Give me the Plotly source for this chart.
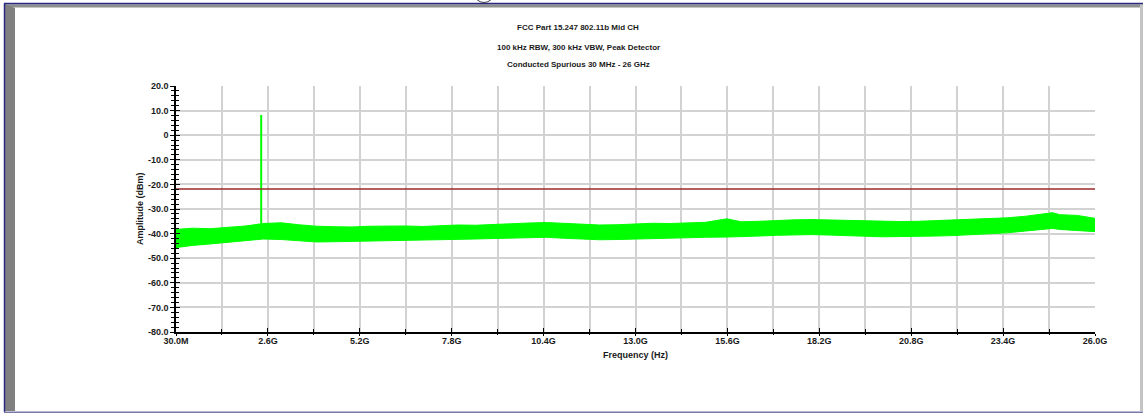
import plotly.graph_objects as go

# Spectrum envelope (frequency in GHz, amplitude in dBm)
freq_ghz = [0.03, 0.5, 1.0, 1.5, 2.0, 2.5, 3.0, 3.5, 4.0, 4.5, 5.0, 5.5, 6.0, 6.5,
            7.0, 7.5, 8.0, 8.5, 9.0, 9.5, 10.0, 10.5, 11.0, 11.5, 12.0, 12.5, 13.0,
            13.5, 14.0, 14.5, 15.0, 15.6, 16.0, 16.5, 17.0, 17.5, 18.0, 18.5, 19.0,
            19.5, 20.0, 20.5, 21.0, 21.5, 22.0, 22.5, 23.0, 23.5, 24.0, 24.5, 24.8,
            25.0, 25.5, 26.0]
peak_dbm = [-38.3, -37.8, -38.0, -37.4, -36.9, -35.9, -35.6, -36.4, -37.0, -37.2,
            -37.3, -37.0, -36.8, -36.9, -37.1, -36.8, -36.5, -36.6, -36.2, -36.0,
            -35.7, -35.5, -35.8, -36.2, -36.5, -36.4, -36.1, -35.8, -35.9, -35.6,
            -35.4, -34.0, -35.2, -35.0, -34.6, -34.4, -34.3, -34.5, -34.8, -35.0,
            -35.2, -35.1, -35.0, -34.7, -34.5, -34.3, -34.0, -33.6, -33.0, -32.2,
            -31.5, -32.3, -32.6, -33.8]
floor_dbm = [-45.7, -44.8, -44.2, -43.6, -42.8, -42.2, -42.4, -43.0, -43.4, -43.3,
             -43.2, -43.0, -42.8, -42.6, -42.7, -42.5, -42.3, -42.2, -42.0, -41.8,
             -41.6, -41.5, -41.9, -42.3, -42.5, -42.4, -42.2, -41.9, -41.8, -41.6,
             -41.5, -41.4, -41.3, -41.0, -40.7, -40.5, -40.4, -40.6, -40.9, -41.1,
             -41.3, -41.2, -41.2, -41.0, -40.8, -40.5, -40.2, -39.7, -39.0, -38.4,
             -37.9, -38.3, -38.6, -39.2]

# Carrier (802.11b mid channel)
carrier_ghz = [2.437, 2.437]
carrier_dbm = [-37.0, 8.2]

# Limit line
limit_dbm = -21.9

x_min, x_max = 0.03, 26.0
y_min, y_max = -80.0, 20.0
x_tick_text = ["30.0M", "2.6G", "5.2G", "7.8G", "10.4G", "13.0G",
               "15.6G", "18.2G", "20.8G", "23.4G", "26.0G"]
y_tick_vals = [20, 10, 0, -10, -20, -30, -40, -50, -60, -70, -80]
y_tick_text = ["20.0", "10.0", "0", "-10.0", "-20.0", "-30.0", "-40.0",
               "-50.0", "-60.0", "-70.0", "-80.0"]

title_lines = ["FCC Part 15.247 802.11b Mid CH",
               "100 kHz RBW, 300 kHz VBW, Peak Detector",
               "Conducted Spurious 30 MHz - 26 GHz"]

W, H = 1143, 413
ML, MR, MT, MB = 176, 48, 86, 81
PW, PH = W - ML - MR, H - MT - MB

step = (x_max - x_min) / 10
x_tick_vals = [x_min + k * step for k in range(11)]

GREEN = "#00ff00"
GRID = "#d2d2d2"
FONT = "Liberation Sans"

fig = go.Figure()

# noise floor band
fig.add_trace(go.Scatter(x=freq_ghz, y=floor_dbm, mode="lines",
                         line=dict(color=GREEN, width=1), hoverinfo="skip",
                         showlegend=False))
fig.add_trace(go.Scatter(x=freq_ghz, y=peak_dbm, mode="lines",
                         line=dict(color=GREEN, width=1), fill="tonexty",
                         fillcolor=GREEN, showlegend=False))
# carrier
fig.add_trace(go.Scatter(x=carrier_ghz, y=carrier_dbm, mode="lines",
                         line=dict(color=GREEN, width=2), showlegend=False))
# limit
fig.add_trace(go.Scatter(x=[x_min, x_max], y=[limit_dbm, limit_dbm], mode="lines",
                         line=dict(color="#9b2a2a", width=1.6), showlegend=False))
# helper trace for the overlay axes (inner tick marks)
fig.add_trace(go.Scatter(x=[x_min], y=[y_min], xaxis="x2", yaxis="y2",
                         mode="markers", marker=dict(opacity=0), showlegend=False,
                         hoverinfo="skip"))

tickfont = dict(family=FONT, size=9, color="#1a1a1a", weight="bold")

fig.update_layout(
    width=W, height=H,
    margin=dict(l=ML, r=MR, t=MT, b=MB),
    paper_bgcolor="white", plot_bgcolor="white",
    font=dict(family=FONT),
    xaxis=dict(range=[x_min, x_max], tickvals=x_tick_vals, ticktext=x_tick_text,
               ticks="outside", ticklen=2, tickwidth=1.2, tickcolor="black",
               ticklabelstandoff=-3,
               tickfont=tickfont, showgrid=True, gridcolor=GRID, gridwidth=1.5,
               showline=True, linecolor="black", linewidth=1.5, zeroline=False,
               minor=dict(dtick=step / 2, tick0=x_min, showgrid=True, gridcolor=GRID,
                          gridwidth=1.5, ticks="outside", ticklen=1, tickcolor="black"),
               layer="below traces"),
    yaxis=dict(range=[y_min, y_max], tickvals=y_tick_vals, ticktext=y_tick_text,
               ticks="outside", ticklen=4, tickwidth=1.2, tickcolor="black",
               tickfont=tickfont, showgrid=True, gridcolor=GRID, gridwidth=1.5,
               showline=True, linecolor="black", linewidth=1.5, zeroline=False,
               minor=dict(dtick=2, ticks="outside", ticklen=3, tickcolor="black",
                          showgrid=False),
               layer="below traces"),
    xaxis2=dict(range=[x_min, x_max], overlaying="x", anchor="y2", side="bottom",
                tickvals=x_tick_vals, ticks="inside", ticklen=4, tickwidth=1.2,
                tickcolor="black", showticklabels=False, showgrid=False,
                zeroline=False, showline=False,
                minor=dict(dtick=step / 2, tick0=x_min, ticks="inside", ticklen=3,
                           tickcolor="black")),
    yaxis2=dict(range=[y_min, y_max], overlaying="y", anchor="x2", side="left",
                tickvals=y_tick_vals, ticks="inside", ticklen=4, tickwidth=1.2,
                tickcolor="black", showticklabels=False, showgrid=False,
                zeroline=False, showline=False,
                minor=dict(dtick=2, ticks="inside", ticklen=3, tickcolor="black")),
)


def px_x(p):
    return (p - ML) / PW


def px_y(p):
    return (H - MB - p) / PH


# chart titles
for text, py in zip(title_lines, [27, 47, 64]):
    fig.add_annotation(text=f"<b>{text}</b>", xref="paper", yref="paper",
                       x=px_x(578), y=px_y(py), showarrow=False,
                       xanchor="center", yanchor="middle",
                       font=dict(family=FONT, size=8, color="#1a1a1a"))

fig.add_annotation(text="<b>Amplitude (dBm)</b>", xref="paper", yref="paper",
                   x=px_x(140), y=0.5, textangle=-90, showarrow=False,
                   xanchor="center", yanchor="middle",
                   font=dict(family=FONT, size=9, color="#1a1a1a"))
fig.add_annotation(text="<b>Frequency (Hz)</b>", xref="paper", yref="paper",
                   x=0.5, y=px_y(355), showarrow=False,
                   xanchor="center", yanchor="middle",
                   font=dict(family=FONT, size=9, color="#1a1a1a"))

# window frame
frame = [
    # top bevel
    dict(type="rect", x0=px_x(4), x1=px_x(1143), y0=px_y(7.5), y1=px_y(4.3),
         fillcolor="#8e8e8e", line=dict(width=0)),
    # left gray bar with bevelled top
    dict(type="path",
         path=f"M {px_x(5)} {px_y(4)} L {px_x(15)} {px_y(8)} L {px_x(15)} {px_y(411)} "
              f"L {px_x(5)} {px_y(411)} Z",
         fillcolor="#808080", line=dict(width=0)),
    # right gray bar
    dict(type="rect", x0=px_x(1140), x1=px_x(1144), y0=px_y(411), y1=px_y(4),
         fillcolor="#c4c4c4", line=dict(width=0)),
    # dark blue outline
    dict(type="line", x0=px_x(4), x1=px_x(1143), y0=px_y(3.6), y1=px_y(3.6),
         line=dict(color="#2a2a80", width=1.5)),
    dict(type="line", x0=px_x(4.5), x1=px_x(4.5), y0=px_y(3.6), y1=px_y(412),
         line=dict(color="#2a2a80", width=1.5)),
    dict(type="line", x0=px_x(4), x1=px_x(1143), y0=px_y(412.2), y1=px_y(412.2),
         line=dict(color="#7878a8", width=1.5)),
    # small circle at top edge
    dict(type="circle", x0=px_x(474), x1=px_x(494), y0=px_y(2.5), y1=px_y(-17.5),
         line=dict(color="#404040", width=1)),
]
for s in frame:
    fig.add_shape(xref="paper", yref="paper", layer="above", **s)

fig.write_html("out.html")
